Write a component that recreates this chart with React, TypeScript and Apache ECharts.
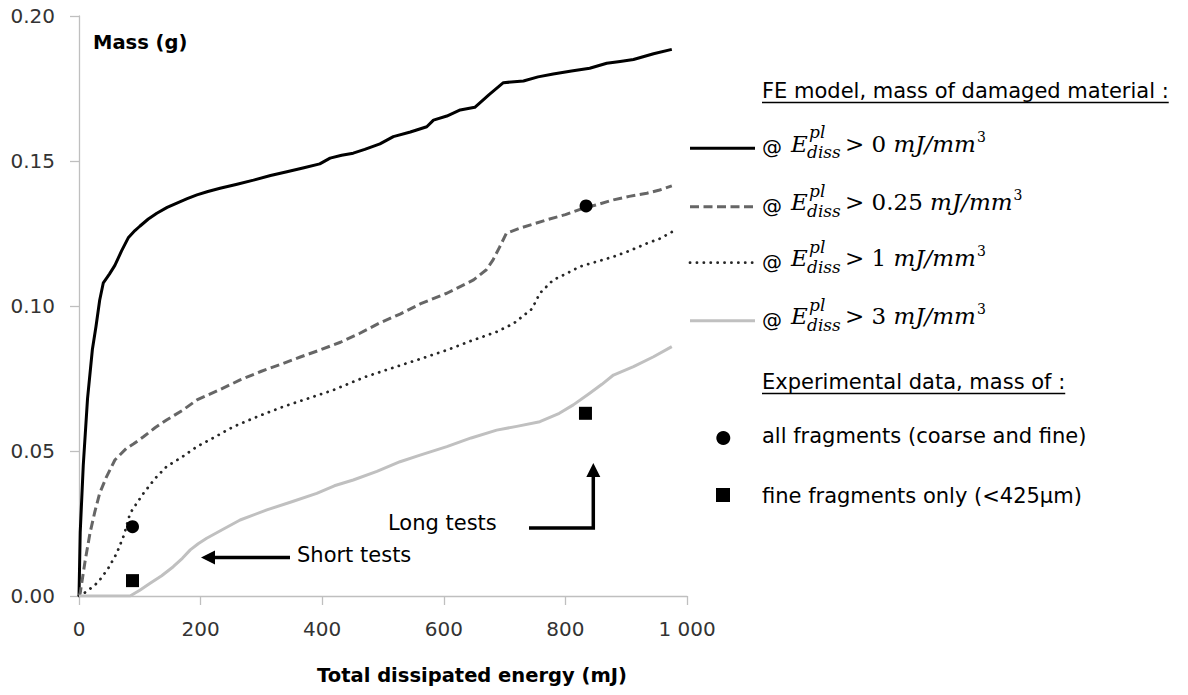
import React, { useEffect, useRef } from "react";
import * as echarts from "echarts";

// ---------- data ----------
// FE model: mass of damaged material (g) vs total dissipated energy (mJ)
const curveE0: [number, number][] = [
  [0, 0], [2, 0.022], [7, 0.045], [14, 0.068], [22, 0.085], [28, 0.093], [34, 0.102], [40, 0.108],
  [50, 0.111], [59, 0.114], [70, 0.119], [81, 0.1235], [92, 0.126], [100, 0.1275], [114, 0.13],
  [128, 0.132], [145, 0.134], [161, 0.1355], [178, 0.137], [194, 0.1383], [212, 0.1395], [232, 0.1406],
  [260, 0.142], [287, 0.1434], [315, 0.145], [342, 0.1463], [370, 0.1477], [396, 0.149], [413, 0.151],
  [432, 0.152], [451, 0.1527], [470, 0.154], [495, 0.1559], [517, 0.1584], [545, 0.16], [572, 0.1618],
  [583, 0.1641], [605, 0.1655], [627, 0.1676], [651, 0.1685], [675, 0.173], [698, 0.177], [731, 0.1776],
  [755, 0.179], [780, 0.18], [810, 0.181], [840, 0.182], [868, 0.1837], [890, 0.1843], [912, 0.185],
  [945, 0.187], [975, 0.1885],
];
const curveE025: [number, number][] = [
  [0, 0], [2, 0.001], [10, 0.012], [18, 0.0216], [26, 0.029], [34, 0.0354], [45, 0.041], [59, 0.0469],
  [78, 0.0509], [90, 0.0525], [106, 0.0549], [125, 0.058], [144, 0.0607], [170, 0.064], [194, 0.0676],
  [230, 0.071], [265, 0.0745], [300, 0.0775], [336, 0.0802], [365, 0.0825], [396, 0.0848], [430, 0.0875],
  [462, 0.0906], [495, 0.0942], [528, 0.0972], [561, 0.1007], [605, 0.1044], [649, 0.109], [670, 0.1125],
  [681, 0.1159], [692, 0.1204], [703, 0.1251], [725, 0.1268], [769, 0.1297], [800, 0.1315], [829, 0.1337],
  [850, 0.1348], [879, 0.1366], [905, 0.1378], [934, 0.1389], [955, 0.14], [975, 0.1414],
];
const curveE1: [number, number][] = [
  [0, 0], [4, 0.0003], [15, 0.002], [25, 0.0035], [34, 0.0055], [48, 0.0095], [62, 0.0147], [74, 0.021],
  [84, 0.0285], [95, 0.032], [106, 0.0354], [125, 0.0405], [144, 0.0446], [170, 0.048], [194, 0.0515],
  [225, 0.055], [254, 0.0584], [295, 0.062], [336, 0.0653], [375, 0.068], [418, 0.071], [470, 0.0755],
  [528, 0.0795], [565, 0.082], [605, 0.0848], [645, 0.088], [687, 0.0911], [715, 0.094], [736, 0.0975],
  [745, 0.099], [758, 0.1044], [780, 0.109], [800, 0.111], [824, 0.1136], [850, 0.1152], [879, 0.117],
  [905, 0.119], [934, 0.1216], [955, 0.1232], [975, 0.1255],
];
const curveE3: [number, number][] = [
  [0, 0], [84, 0], [100, 0.002], [117, 0.0044], [136, 0.007], [155, 0.0101], [170, 0.013], [183, 0.0159],
  [196, 0.018], [210, 0.0199], [237, 0.023], [265, 0.0262], [309, 0.0297], [350, 0.0325], [391, 0.0354],
  [420, 0.038], [451, 0.04], [490, 0.043], [528, 0.0463], [561, 0.0486], [605, 0.0515], [645, 0.0545],
  [687, 0.0572], [720, 0.0585], [758, 0.0601], [790, 0.063], [813, 0.0659], [840, 0.0699], [860, 0.073],
  [879, 0.0762], [912, 0.0791], [945, 0.0825], [975, 0.086],
];
// Experimental data
const expAllFragments: [number, number][] = [[88, 0.0239], [834, 0.1345]];
const expFineFragments: [number, number][] = [[88, 0.0053], [833, 0.063]];

const thresholds = ["0", "0.25", "1", "3"];
const xTicks = { min: 0, max: 1000, interval: 200 };
const yTicks = { min: 0, max: 0.2, interval: 0.05 };

const feHeader = "FE model, mass of damaged material :";
const expHeader = "Experimental data, mass of :";
const expLabels = ["all fragments (coarse and fine)", "fine fragments only (<425µm)"];
const xTitle = "Total dissipated energy (mJ)";
const yTitle = "Mass (g)";
const shortLabel = "Short tests";
const longLabel = "Long tests";

// ---------- styles ----------
const SANS = "'DejaVu Sans', sans-serif";
const SERIF = "'DejaVu Serif', serif";
const AXIS_COLOR = "#bfbfbf";
const LABEL_COLOR = "#333333";

const lineStyles = [
  { color: "#000000", width: 3, type: "solid" as any, cap: "butt" },
  { color: "#666666", width: 3, type: [9, 4.5] as any, cap: "butt" },
  { color: "#262626", width: 2.8, type: [0.1, 6.8] as any, cap: "round" },
  { color: "#c0c0c0", width: 3, type: "solid" as any, cap: "butt" },
];

function measure(text: string, font: string): number {
  const c = document.createElement("canvas");
  const ctx = c.getContext("2d");
  if (!ctx) return text.length * 10;
  ctx.font = font;
  return ctx.measureText(text).width;
}

function txt(text: string, x: number, y: number, o: any = {}): any {
  return {
    type: "text",
    x,
    y,
    silent: true,
    style: {
      text,
      fill: o.fill || "#000",
      fontSize: o.fontSize || 21,
      fontFamily: o.fontFamily || SANS,
      fontWeight: o.fontWeight || "normal",
      fontStyle: o.fontStyle || "normal",
      align: o.align || "left",
      verticalAlign: "middle",
    },
  };
}

export default function App() {
  const ref = useRef<HTMLDivElement>(null);

  useEffect(() => {
    if (!ref.current) return;
    const chart = echarts.init(ref.current, undefined, { renderer: "svg" });

    const graphics: any[] = [];
    // axis titles
    graphics.push(txt(yTitle, 93, 42, { fontWeight: "bold", fontSize: 19.5 }));
    graphics.push(txt(xTitle, 472, 675, { fontWeight: "bold", fontSize: 19.5, align: "center" }));

    // legend header FE
    const hx = 762;
    const hw1 = measure(feHeader, `21px ${SANS}`);
    graphics.push(txt(feHeader, hx, 91));
    graphics.push({
      type: "line", silent: true,
      shape: { x1: hx, y1: 102.5, x2: hx + hw1, y2: 102.5 },
      style: { stroke: "#000", lineWidth: 1.6 },
    });

    const rowY = [148.3, 206.7, 262.7, 320.7];
    thresholds.forEach((thr, i) => {
      const yc = rowY[i];
      const ls = lineStyles[i];
      graphics.push({
        type: "line", silent: true,
        shape: { x1: 690, y1: yc, x2: 755, y2: yc },
        style: {
          stroke: ls.color, lineWidth: ls.width,
          lineDash: Array.isArray(ls.type) ? ls.type : null,
          lineCap: ls.cap,
        },
      });
      graphics.push(txt("@", 762, yc - 1, { fontSize: 20 }));
      graphics.push(txt("E", 791, yc - 4.5, { fontFamily: SERIF, fontStyle: "italic", fontSize: 23 }));
      graphics.push(txt("pl", 809, yc - 16, { fontFamily: SERIF, fontStyle: "italic", fontSize: 17 }));
      graphics.push(txt("diss", 807, yc + 4, { fontFamily: SERIF, fontStyle: "italic", fontSize: 17 }));
      const rel = "> " + thr + " ";
      const relW = measure(rel, `23px ${SERIF}`);
      graphics.push(txt(rel, 845, yc - 4.5, { fontFamily: SERIF, fontSize: 23 }));
      const unit = "mJ/mm";
      const unitX = 845 + relW;
      const unitW = measure(unit, `italic 23px ${SERIF}`);
      graphics.push(txt(unit, unitX, yc - 4.5, { fontFamily: SERIF, fontStyle: "italic", fontSize: 23 }));
      graphics.push(txt("3", unitX + unitW + 1, yc - 11.5, { fontFamily: SERIF, fontSize: 14 }));
    });

    // legend header experimental
    const hw2 = measure(expHeader, `21px ${SANS}`);
    graphics.push(txt(expHeader, hx, 382));
    graphics.push({
      type: "line", silent: true,
      shape: { x1: hx, y1: 393.5, x2: hx + hw2, y2: 393.5 },
      style: { stroke: "#000", lineWidth: 1.6 },
    });
    graphics.push({ type: "circle", silent: true, shape: { cx: 723.3, cy: 438, r: 7 }, style: { fill: "#000" } });
    graphics.push(txt(expLabels[0], hx, 436));
    graphics.push({ type: "rect", silent: true, shape: { x: 716, y: 488, width: 14, height: 14 }, style: { fill: "#000" } });
    graphics.push(txt(expLabels[1], hx, 495.5));

    // annotations
    graphics.push(txt(shortLabel, 297, 555));
    graphics.push({
      type: "line", silent: true,
      shape: { x1: 290, y1: 557.5, x2: 212, y2: 557.5 },
      style: { stroke: "#000", lineWidth: 3.5 },
    });
    graphics.push({
      type: "polygon", silent: true,
      shape: { points: [[201, 557.5], [215, 550.5], [215, 564.5]] },
      style: { fill: "#000" },
    });
    graphics.push(txt(longLabel, 388, 522.5));
    graphics.push({
      type: "polyline", silent: true,
      shape: { points: [[529, 528], [593.3, 528], [593.3, 474]] },
      style: { stroke: "#000", lineWidth: 3.5, fill: null },
    });
    graphics.push({
      type: "polygon", silent: true,
      shape: { points: [[593.3, 463], [586.3, 477], [600.3, 477]] },
      style: { fill: "#000" },
    });

    const curves = [curveE0, curveE025, curveE1, curveE3];
    const lineSeries = curves.map((data, i) => ({
      type: "line",
      name: "E > " + thresholds[i],
      data,
      showSymbol: false,
      symbol: "none",
      smooth: false,
      z: 2,
      lineStyle: {
        color: lineStyles[i].color,
        width: lineStyles[i].width,
        type: lineStyles[i].type,
        cap: lineStyles[i].cap,
        join: "round",
      },
    }));

    chart.setOption({
      animation: false,
      backgroundColor: "#ffffff",
      grid: {
        left: 79, top: 16, width: 608, height: 580,
        containLabel: false,
        outerBoundsMode: "none",
      },
      xAxis: {
        type: "value",
        min: xTicks.min, max: xTicks.max, interval: xTicks.interval,
        axisLine: { show: true, onZero: false, lineStyle: { color: AXIS_COLOR, width: 1.3 } },
        axisTick: { show: true, length: 9, lineStyle: { color: AXIS_COLOR, width: 1.3 } },
        splitLine: { show: false },
        axisLabel: {
          margin: 23, color: LABEL_COLOR, fontSize: 20, fontFamily: SANS,
          formatter: (v: number) => (v >= 1000 ? String(v).replace(/(\d)(?=(\d{3})+$)/g, "$1 ") : String(v)),
        },
      },
      yAxis: {
        type: "value",
        min: yTicks.min, max: yTicks.max, interval: yTicks.interval,
        axisLine: { show: true, onZero: false, lineStyle: { color: AXIS_COLOR, width: 1.3 } },
        axisTick: { show: true, length: 9, lineStyle: { color: AXIS_COLOR, width: 1.3 } },
        splitLine: { show: false },
        axisLabel: {
          margin: 24, color: LABEL_COLOR, fontSize: 20, fontFamily: SANS,
          formatter: (v: number) => v.toFixed(2),
        },
      },
      series: [
        ...lineSeries,
        {
          type: "scatter", name: expLabels[0], data: expAllFragments,
          symbol: "circle", symbolSize: 13, z: 3,
          itemStyle: { color: "#000", opacity: 1 },
        },
        {
          type: "scatter", name: expLabels[1], data: expFineFragments,
          symbol: "rect", symbolSize: 13, z: 3,
          itemStyle: { color: "#000", opacity: 1 },
        },
      ],
      graphic: graphics,
    });

    return () => chart.dispose();
  }, []);

  return (
    <div
      ref={ref}
      style={{ position: "absolute", left: 0, top: 0, width: 1188, height: 695, background: "#fff" }}
    />
  );
}
